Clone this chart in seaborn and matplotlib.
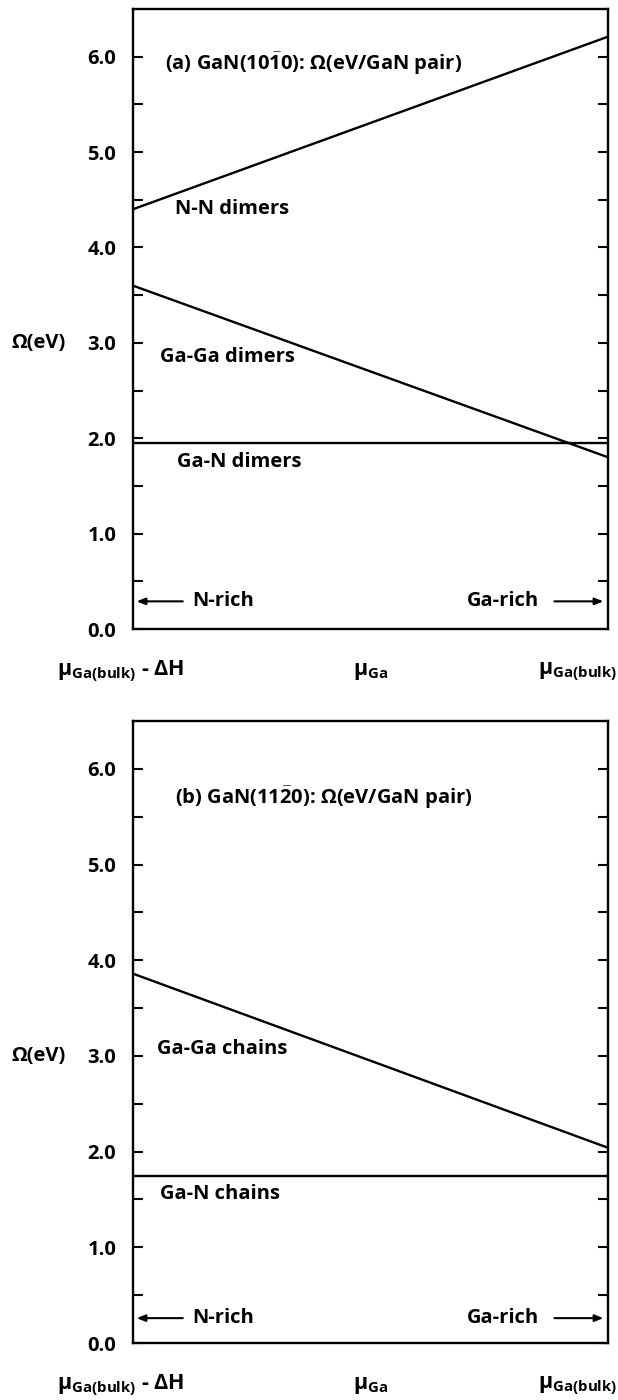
import matplotlib
matplotlib.use("Agg")
import matplotlib.pyplot as plt
import seaborn as sns

# chemical potential axis: 0 = N-rich limit, 1 = Ga-rich limit
mu = [0.0, 1.0]

# (a) GaN(10-10) surface energies (eV / GaN pair)
nn_dimers = [4.40, 6.21]
gaga_dimers = [3.60, 1.80]
gan_dimers = [1.95, 1.95]

# (b) GaN(11-20)
gaga_chains = [3.86, 2.04]
gan_chains = [1.75, 1.75]

yticks = [0, 1, 2, 3, 4, 5, 6]
ytick_labels = ["0.0", "1.0", "2.0", "3.0", "4.0", "5.0", "6.0"]

FS = 14.5

sns.set_style("white")
plt.rcParams["font.family"] = ["Open Sans", "DejaVu Sans"]
plt.rcParams["font.weight"] = "bold"
plt.rcParams["text.color"] = "black"
plt.rcParams["ytick.color"] = "black"
plt.rcParams["ytick.labelcolor"] = "black"
plt.rcParams["mathtext.fontset"] = "custom"
plt.rcParams["mathtext.rm"] = "Open Sans:bold"
plt.rcParams["mathtext.bf"] = "Open Sans:bold"
plt.rcParams["mathtext.it"] = "Open Sans:bold"
plt.rcParams["mathtext.default"] = "bf"

fig = plt.figure(figsize=(6.18, 14), dpi=100)
ax_a = fig.add_axes([0.215, 0.5507, 0.769, 0.4429])
ax_b = fig.add_axes([0.215, 0.0407, 0.769, 0.4443])


def style_axis(ax):
    ax.set_xlim(0, 1)
    ax.set_ylim(0, 6.5)
    for s in ax.spines.values():
        s.set_linewidth(1.7)
        s.set_color("black")
    ax.set_xticks([])
    ax.set_yticks(yticks)
    ax.set_yticklabels(ytick_labels, fontsize=FS, fontweight="bold", color="black")
    ax.set_yticks([0.5 + i for i in range(6)], minor=True)
    ax.tick_params(axis="y", which="both", direction="in", left=True, right=True,
                   length=7, width=1.5, color="black", pad=12)
    ax.set_ylabel("")
    ax.set_xlabel("")
    ax.text(-0.198, 3.0, "Ω(eV)", fontsize=FS, fontweight="bold", ha="center", va="center",
            color="black", transform=ax.get_yaxis_transform())
    # mu labels under the axis
    ax.text(-0.16, -0.068, r"μ$_{\mathbf{Ga(bulk)}}$ - ΔH", fontsize=FS + 1, fontweight="bold",
            ha="left", va="center", color="black", transform=ax.transAxes)
    ax.text(0.50, -0.068, r"μ$_{\mathbf{Ga}}$", fontsize=FS + 1, fontweight="bold",
            ha="center", va="center", color="black", transform=ax.transAxes)
    ax.text(1.02, -0.068, r"μ$_{\mathbf{Ga(bulk)}}$", fontsize=FS + 1, fontweight="bold",
            ha="right", va="center", color="black", transform=ax.transAxes)


def rich_arrows(ax, y):
    arrow = dict(arrowstyle="-|>,head_length=0.5,head_width=0.2", color="black", lw=1.5,
                 shrinkA=0, shrinkB=0)
    ax.annotate("", xy=(0.008, y), xytext=(0.105, y), xycoords="data", arrowprops=arrow)
    ax.text(0.125, y, "N-rich", fontsize=FS, fontweight="bold", ha="left", va="center")
    ax.annotate("", xy=(0.99, y), xytext=(0.887, y), xycoords="data", arrowprops=arrow)
    ax.text(0.855, y, "Ga-rich", fontsize=FS, fontweight="bold", ha="right", va="center")


# panel (a)
for vals in [nn_dimers, gaga_dimers, gan_dimers]:
    sns.lineplot(x=mu, y=vals, color="black", linewidth=1.7, ax=ax_a)
style_axis(ax_a)
ax_a.text(0.067, 5.92, r"(a) GaN(10$\bar{1}$0): Ω(eV/GaN pair)", fontsize=FS,
          fontweight="bold", ha="left", va="center")
ax_a.text(0.088, 4.40, "N-N dimers", fontsize=FS, fontweight="bold", ha="left", va="center")
ax_a.text(0.057, 2.85, "Ga-Ga dimers", fontsize=FS, fontweight="bold", ha="left", va="center")
ax_a.text(0.093, 1.75, "Ga-N dimers", fontsize=FS, fontweight="bold", ha="left", va="center")
rich_arrows(ax_a, 0.29)

# panel (b)
for vals in [gaga_chains, gan_chains]:
    sns.lineplot(x=mu, y=vals, color="black", linewidth=1.7, ax=ax_b)
style_axis(ax_b)
ax_b.text(0.088, 5.70, r"(b) GaN(11$\bar{2}$0): Ω(eV/GaN pair)", fontsize=FS,
          fontweight="bold", ha="left", va="center")
ax_b.text(0.05, 3.07, "Ga-Ga chains", fontsize=FS, fontweight="bold", ha="left", va="center")
ax_b.text(0.057, 1.56, "Ga-N chains", fontsize=FS, fontweight="bold", ha="left", va="center")
rich_arrows(ax_b, 0.26)

fig.savefig("out.png", dpi=100)
